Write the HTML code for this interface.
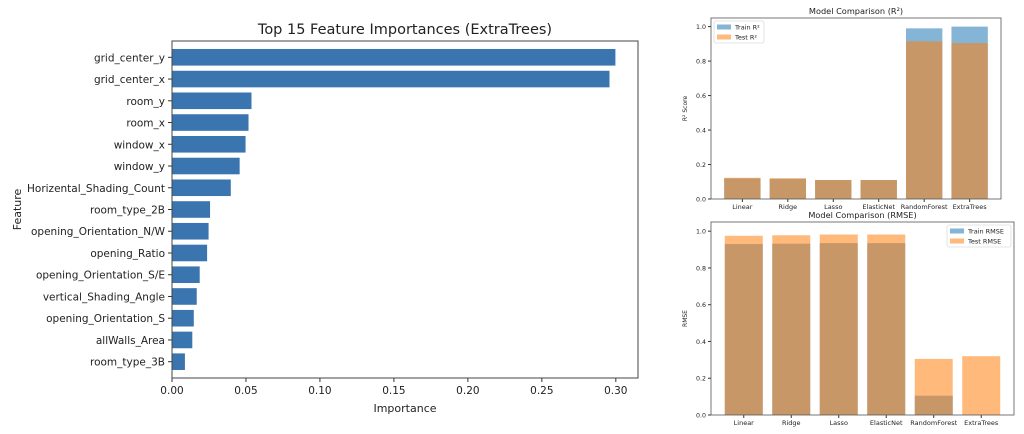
<!DOCTYPE html>
<html><head><meta charset="utf-8"><style>
body{margin:0;background:#fff;}
svg{display:block;font-family:"DejaVu Sans","Liberation Sans",sans-serif;}
</style></head><body>
<svg id="chart" width="1024" height="434" viewBox="0 0 1024 434"></svg>
<script>
const features=["grid_center_y","grid_center_x","room_y","room_x","window_x","window_y","Horizental_Shading_Count","room_type_2B","opening_Orientation_N/W","opening_Ratio","opening_Orientation_S/E","vertical_Shading_Angle","opening_Orientation_S","allWalls_Area","room_type_3B"];
const importances=[0.300,0.296,0.054,0.052,0.050,0.046,0.040,0.026,0.025,0.024,0.019,0.017,0.015,0.014,0.009];
const impTicks=[0,0.05,0.10,0.15,0.20,0.25,0.30];
const models=["Linear","Ridge","Lasso","ElasticNet","RandomForest","ExtraTrees"];
const trainR2=[0.120,0.118,0.110,0.110,0.990,1.000];
const testR2=[0.123,0.120,0.110,0.110,0.915,0.905];
const trainRMSE=[0.930,0.932,0.935,0.935,0.105,0.0];
const testRMSE=[0.975,0.978,0.982,0.982,0.305,0.320];
const scoreTicks=[0,0.2,0.4,0.6,0.8,1.0];

const svg=document.getElementById('chart');
const NS='http://www.w3.org/2000/svg';
function mk(tag,attrs,parent){const e=document.createElementNS(NS,tag);for(const k in attrs)e.setAttribute(k,attrs[k]);(parent||svg).appendChild(e);return e;}
function txt(s,attrs,parent){const e=mk('text',attrs,parent);e.textContent=s;return e;}

// ---- Left chart ----
(function(){
  const L=172,R=638,T=41,B=378;
  const xmax=Math.max(...importances)*1.05;
  const x=v=>L+v/xmax*(R-L);
  const n=features.length;
  const step=(B-T)/(n-1+1.5);
  const y=i=>T+step*(0.75+i);
  const g=mk('g',{});
  
  
  features.forEach((f,i)=>{
    const r=mk('rect',{x:L,y:y(i)-step*0.4,width:x(importances[i])-L,height:step*0.8,fill:'#3a75b0',stroke:'#fff','stroke-width':0.8},g);
    
    
    mk('line',{x1:L-4,x2:L,y1:y(i),y2:y(i),stroke:'#333'},g);
    const t=txt(f,{x:L-7,y:y(i)+4,'text-anchor':'end','font-size':10.5,fill:'#222'},g);
    
    
  });
  impTicks.forEach(v=>{
    mk('line',{x1:x(v),x2:x(v),y1:B,y2:B+4,stroke:'#333'},g);
    const t=txt(v.toFixed(2),{x:x(v),y:B+16,'text-anchor':'middle','font-size':10.5,fill:'#222'},g);
    
    
  });
  mk('rect',{x:L,y:T,width:R-L,height:B-T,fill:'none',stroke:'#444','stroke-width':1},g);
  const tt=txt('Top 15 Feature Importances (ExtraTrees)',{x:(L+R)/2,y:T-7,'text-anchor':'middle','font-size':14.5,fill:'#222'},g);
  
  const xl=txt('Importance',{x:(L+R)/2,y:B+34,'text-anchor':'middle','font-size':11,fill:'#222'},g);
  
  const yl=txt('Feature',{x:0,y:0,'text-anchor':'middle','font-size':11,fill:'#222',transform:`translate(21,${(T+B)/2}) rotate(-90)`},g);
  
})();

// ---- Right charts ----
function comp(opts){
  const {L,R,T,B,title,ylabel,train,test,names,legendRight,prefix}=opts;
  const ymax=1.05;
  const y=v=>B-v/ymax*(B-T);
  const n=models.length;
  const lo=-0.4-0.05*(n-1+0.8), hi=n-1+0.4+0.05*(n-1+0.8);
  const x=i=>L+(i-lo)/(hi-lo)*(R-L);
  const bw=0.8*(R-L)/(hi-lo);
  const g=mk('g',{});
  
  
  models.forEach((m,i)=>{
    const a=mk('rect',{x:x(i)-bw/2,y:y(train[i]),width:bw,height:B-y(train[i]),fill:'#1f77b4','fill-opacity':0.55},g);
    
    
    const b=mk('rect',{x:x(i)-bw/2,y:y(test[i]),width:bw,height:B-y(test[i]),fill:'#ff7f0e','fill-opacity':0.55},g);
    
    
    mk('line',{x1:x(i),x2:x(i),y1:B,y2:B+3,stroke:'#333'},g);
    const t=txt(m,{x:x(i),y:B+10,'text-anchor':'middle','font-size':6.5,fill:'#222'},g);
    
  });
  scoreTicks.forEach(v=>{
    mk('line',{x1:L-3,x2:L,y1:y(v),y2:y(v),stroke:'#333'},g);
    const t=txt(v.toFixed(1),{x:L-5,y:y(v)+2.5,'text-anchor':'end','font-size':6.3,fill:'#222'},g);
    
  });
  mk('rect',{x:L,y:T,width:R-L,height:B-T,fill:'none',stroke:'#555','stroke-width':0.8},g);
  const tt=txt(title,{x:(L+R)/2,y:T-4,'text-anchor':'middle','font-size':8.2,fill:'#222'},g);
  
  const yl=txt(ylabel,{x:0,y:0,'text-anchor':'middle','font-size':6,fill:'#222',transform:`translate(${L-24},${(T+B)/2}) rotate(-90)`},g);
  
  const lw=legendRight?64:50, lx=legendRight?R-lw-3:L+3, ly=T+3;
  const lg=mk('g',{},g);
  
  mk('rect',{x:lx,y:ly,width:lw,height:22,fill:'#fff',stroke:'#ddd','stroke-width':0.8,rx:2},lg);
  [[names[0],'#1f77b4'],[names[1],'#ff7f0e']].forEach((p,k)=>{
    const e=mk('g',{},lg);
    
    mk('rect',{x:lx+3,y:ly+3.5+k*10,width:14,height:5,fill:p[1],'fill-opacity':0.55},e);
    txt(p[0],{x:lx+21,y:ly+8.5+k*10,'font-size':6.5,fill:'#222'},e);
  });
}
comp({L:711,R:1001,T:18,B:199,title:'Model Comparison (R²)',ylabel:'R² Score',train:trainR2,test:testR2,names:['Train R²','Test R²'],legendRight:false,prefix:'r2'});
comp({L:711,R:1014,T:222,B:415,title:'Model Comparison (RMSE)',ylabel:'RMSE',train:trainRMSE,test:testRMSE,names:['Train RMSE','Test RMSE'],legendRight:true,prefix:'rmse'});
</script>
</body></html>
